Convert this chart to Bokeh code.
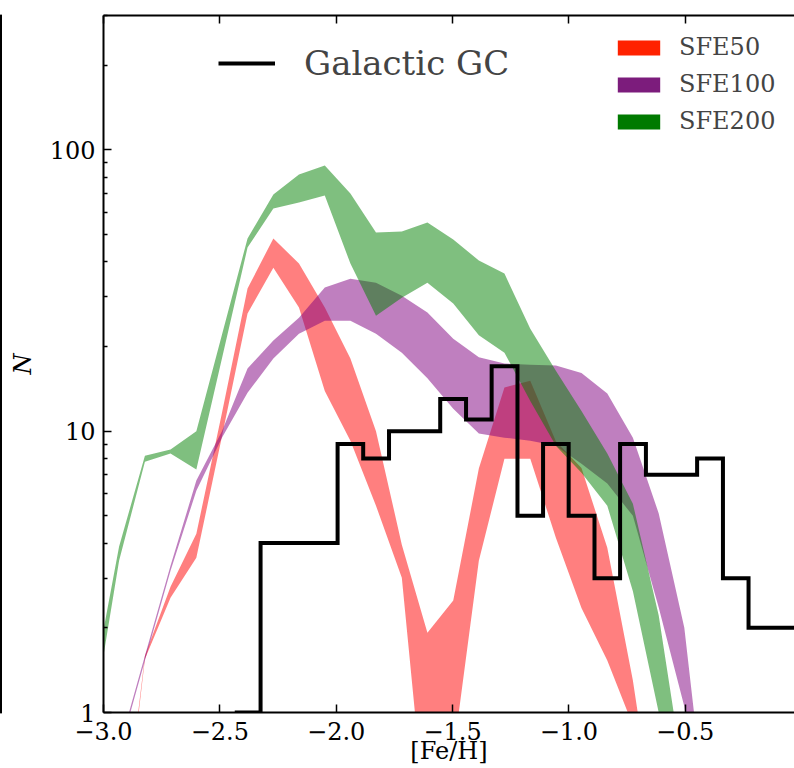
from bokeh.plotting import figure
from bokeh.layouts import row
from bokeh.models import Range1d, FixedTicker, LinearAxis, Legend, LegendItem
from bokeh.embed import file_html
from bokeh.resources import INLINE

# ---------------- data ----------------
feh = [-3.043, -2.933, -2.822, -2.712, -2.601, -2.491, -2.381, -2.270, -2.160,
       -2.049, -1.939, -1.829, -1.718, -1.608, -1.497, -1.387, -1.277, -1.166,
       -1.056, -0.946, -0.835, -0.725, -0.614, -0.504, -0.394]

sfe50_hi = [0.10, 0.27, 1.59, 2.80, 4.32, 11.6, 32.1, 48.4, 39.4, 27.5, 18.1, 10.0,
            3.95, 1.92, 2.50, 7.36, 14.3, 15.1, 9.2, 7.4, 3.85, 1.30, 0.32, 0.10, 0.05]
sfe50_lo = [0.10, 0.25, 1.55, 2.56, 3.55, 9.56, 26.2, 38.1, 27.5, 13.9, 9.25, 5.43,
            3.01, 0.35, 0.71, 3.46, 7.98, 7.98, 4.18, 2.35, 1.53, 0.90, 0.21, 0.05, 0.02]

sfe100_hi = [0.36, 0.75, 1.59, 3.32, 6.67, 10.0, 16.7, 21.0, 25.3, 32.4, 34.8, 33.7,
             30.3, 26.4, 21.3, 18.3, 17.4, 17.2, 17.1, 16.1, 13.6, 9.48, 5.1, 2.0, 0.32]
sfe100_lo = [0.35, 0.72, 1.53, 3.19, 6.14, 9.48, 13.7, 18.1, 22.2, 24.7, 24.7, 22.2,
             19.0, 15.4, 12.0, 9.80, 9.48, 9.25, 8.88, 7.66, 6.51, 5.0, 2.36, 1.05, 0.20]

sfe200_hi = [1.27, 3.89, 8.18, 8.60, 10.0, 22.0, 48.4, 69.3, 81.7, 87.9, 69.9, 50.8,
             51.2, 55.1, 48.0, 40.4, 36.3, 23.1, 16.4, 11.8, 8.32, 5.52, 2.21, 0.57, 0.20]
sfe200_lo = [0.97, 3.46, 7.79, 8.32, 7.30, 18.1, 44.9, 61.8, 64.9, 68.8, 39.4, 25.7,
             29.8, 33.7, 28.4, 21.9, 19.0, 12.8, 8.88, 7.12, 5.43, 2.70, 1.00, 0.32, 0.10]

hist_edges = [-2.436, -2.325, -2.215, -2.105, -1.994, -1.884, -1.773, -1.663,
              -1.553, -1.442, -1.332, -1.221, -1.111, -1.001, -0.890, -0.780,
              -0.669, -0.559, -0.449, -0.338, -0.228, -0.117, -0.007]
hist_counts = [1, 4, 4, 4, 9, 8, 10, 10, 13, 11, 17, 5, 9, 5, 3, 9, 7, 7, 8, 3, 2, 2]

series_names = ["SFE50", "SFE100", "SFE200"]
band_colors = ["#FF0000", "#800080", "#008000"]
legend_colors = ["#FF2200", "#7C1C7C", "#007A00"]

x_ticks = [-3.0, -2.5, -2.0, -1.5, -1.0, -0.5]
x_tick_labels = ["\u22123.0", "\u22122.5", "\u22122.0", "\u22121.5", "\u22121.0", "\u22120.5"]
y_ticks = [1, 10, 100]
y_tick_labels = ["1", "10", "100"]
y_minor_ticks = [2, 3, 4, 5, 6, 7, 8, 9, 20, 30, 40, 50, 60, 70, 80, 90, 200, 300]

FONT = "DejaVu Serif"

# ---------------- neighbouring panel edge (left strip) ----------------
strip = figure(width=2, height=768, output_backend="svg", toolbar_location=None,
               min_border_left=0, min_border_right=0, min_border_top=15,
               min_border_bottom=56, x_axis_location=None, y_axis_location=None)
strip.grid.visible = False
strip.outline_line_color = "black"
strip.outline_line_width = 2

# ---------------- main figure ----------------
p = figure(width=792, height=768, y_axis_type="log",
           x_range=Range1d(-3.0, -0.0305), y_range=Range1d(1, 300),
           output_backend="svg", toolbar_location=None,
           min_border_left=101, min_border_right=0, min_border_top=15, min_border_bottom=56)
p.outline_line_color = None
p.xgrid.visible = False
p.ygrid.visible = False

bands = [(sfe50_lo, sfe50_hi), (sfe100_lo, sfe100_hi), (sfe200_lo, sfe200_hi)]
for (lo, hi), col in zip(bands, band_colors):
    p.varea(x=feh, y1=lo, y2=hi, fill_color=col, fill_alpha=0.5)

hist = p.step(x=hist_edges, y=hist_counts + hist_counts[-1:], mode="after",
              line_color="black", line_width=4, line_join="miter")

# invisible full-colour copies of the bands, used only for the legend swatches
legend_renderers = []
for (lo, hi), col in zip(bands, legend_colors):
    r = p.varea(x=feh, y1=lo, y2=hi, fill_color=col, fill_alpha=1.0)
    r.visible = False
    legend_renderers.append(r)

# ---------------- axes ----------------
bottom = p.below[0]
left = p.left[0]
top = LinearAxis(ticker=FixedTicker(ticks=x_ticks))
p.add_layout(top, "above")

bottom.ticker = FixedTicker(ticks=x_ticks)
bottom.major_label_overrides = dict(zip(x_ticks, x_tick_labels))
left.ticker = FixedTicker(ticks=y_ticks, minor_ticks=y_minor_ticks)
left.major_label_overrides = dict(zip(y_ticks, y_tick_labels))

for ax in [bottom, left, top]:
    ax.axis_line_width = 2
    ax.axis_line_color = "black"
    ax.major_tick_in = 8
    ax.major_tick_out = 0
    ax.major_tick_line_width = 1.5
    ax.major_tick_line_color = "black"
    ax.minor_tick_in = 4
    ax.minor_tick_out = 0
    ax.minor_tick_line_width = 1.5
    ax.minor_tick_line_color = "black"
    ax.major_label_text_font = FONT
    ax.major_label_text_color = "black"
    ax.major_label_text_font_size = "24px"
bottom.minor_tick_line_color = None
top.minor_tick_line_color = None
top.major_label_text_font_size = "0px"
top.major_label_text_alpha = 0
top.major_label_standoff = 0
bottom.major_label_standoff = 9
left.major_label_standoff = 8

left.axis_label = "N"
left.axis_label_text_font = FONT
left.axis_label_text_font_style = "italic"
left.axis_label_text_font_size = "24px"
left.axis_label_text_color = "black"
left.axis_label_standoff = 10

# x-axis title, sitting low at the bottom edge as in the original crop
bottom.axis_label = "[Fe/H]"
bottom.axis_label_text_font = FONT
bottom.axis_label_text_font_style = "normal"
bottom.axis_label_text_font_size = "24px"
bottom.axis_label_text_color = "black"
bottom.axis_label_standoff = -6

# ---------------- legends ----------------
leg1 = Legend(items=[LegendItem(label="Galactic GC", renderers=[hist])],
              location=(115, 629), glyph_width=57, glyph_height=40, label_height=40,
              label_standoff=29, padding=0, margin=0, spacing=0,
              border_line_color=None, background_fill_alpha=0,
              label_text_font=FONT, label_text_font_size="34px")
p.add_layout(leg1)

leg2 = Legend(items=[LegendItem(label=n, renderers=[r])
                     for n, r in zip(series_names, legend_renderers)],
              location=(509, 577), glyph_width=53, glyph_height=19, label_height=19,
              label_standoff=14, padding=0, margin=0, spacing=9,
              border_line_color=None, background_fill_alpha=0,
              inactive_fill_alpha=0,
              label_text_font=FONT, label_text_font_size="24px")
p.add_layout(leg2)

layout = row(strip, p, spacing=0)
open("out.html", "w").write(file_html(layout, INLINE))
